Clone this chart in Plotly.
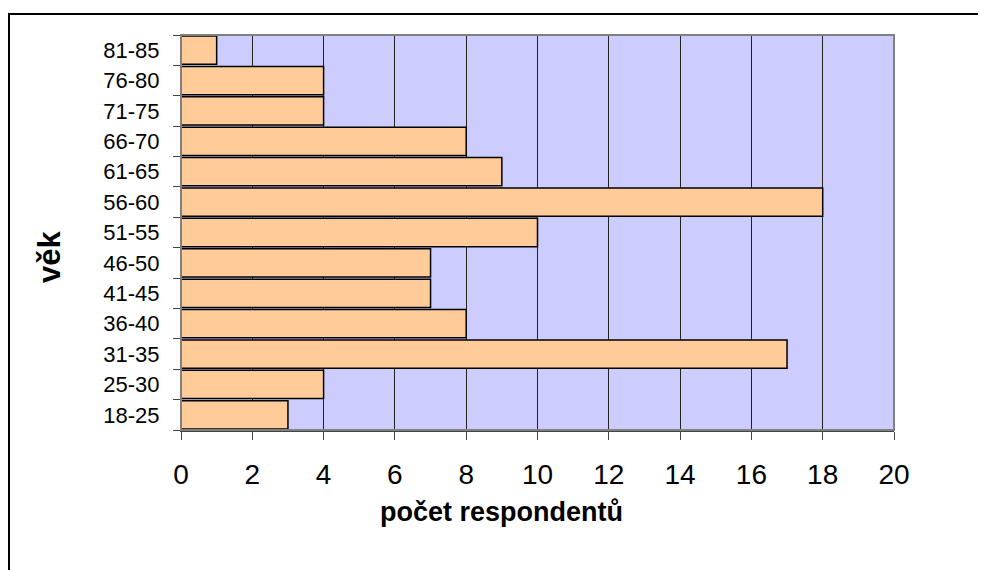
import plotly.graph_objects as go

categories = ["18-25", "25-30", "31-35", "36-40", "41-45", "46-50", "51-55",
              "56-60", "61-65", "66-70", "71-75", "76-80", "81-85"]
values = [3, 4, 17, 8, 7, 7, 10, 18, 9, 8, 4, 4, 1]
x_ticks = [0, 2, 4, 6, 8, 10, 12, 14, 16, 18, 20]
x_title = "počet respondentů"
y_title = "věk"

OFF = 8  # page body margin
W, H = 986 - OFF, 570 - OFF
L, T = 181 - OFF, 35 - OFF
pw, ph = 713, 395
R, B = W - L - pw, H - T - ph

fig = go.Figure(go.Bar(
    x=values, y=categories, orientation="h",
    marker=dict(color="#FFCC99", line=dict(color="black", width=1.5)),
))

def px_x(p):
    return (p - OFF - L) / pw

def px_y(p):
    return 1 - (p - OFF - T) / ph

fig.update_layout(
    width=W, height=H,
    margin=dict(l=L, r=R, t=T, b=B, pad=0),
    paper_bgcolor="white",
    plot_bgcolor="#CCCCFF",
    bargap=0.07,
    showlegend=False,
    font=dict(family="Liberation Sans, Arial, sans-serif", color="black"),
    xaxis=dict(
        range=[0, 20], tickvals=x_ticks, ticks="outside", ticklen=8,
        tickcolor="#444", showgrid=True, gridcolor="#222", gridwidth=1,
        tickfont=dict(size=28), zeroline=False,
        showline=True, linecolor="#444", linewidth=2,
        ticklabelstandoff=10,
        fixedrange=True,
    ),
    yaxis=dict(
        type="category", categoryorder="array", categoryarray=categories,
        ticks="outside", ticklen=7, tickson="boundaries", tickcolor="#444",
        showgrid=False, showline=True, linecolor="#444", linewidth=1,
        tickfont=dict(size=22), ticklabelstandoff=16,
        range=[-0.5, len(categories) - 0.5],
        fixedrange=True,
    ),
    annotations=[
        dict(text="<b>" + x_title + "</b>", xref="paper", yref="paper",
             x=px_x(501), y=px_y(512), xanchor="center", yanchor="middle",
             showarrow=False, font=dict(size=27)),
        dict(text="<b>" + y_title + "</b>", xref="paper", yref="paper",
             x=px_x(49), y=px_y(257), xanchor="center", yanchor="middle",
             textangle=-90, showarrow=False, font=dict(size=31)),
    ],
    shapes=[
        dict(type="rect", xref="paper", yref="paper",
             x0=0, x1=1, y0=0, y1=1,
             line=dict(color="#808080", width=2), fillcolor="rgba(0,0,0,0)",
             layer="above"),
        dict(type="rect", xref="paper", yref="paper",
             x0=px_x(9), x1=px_x(984), y0=px_y(580), y1=px_y(14),
             line=dict(color="black", width=2), fillcolor="rgba(0,0,0,0)"),
    ],
)

fig.write_html("out.html")
